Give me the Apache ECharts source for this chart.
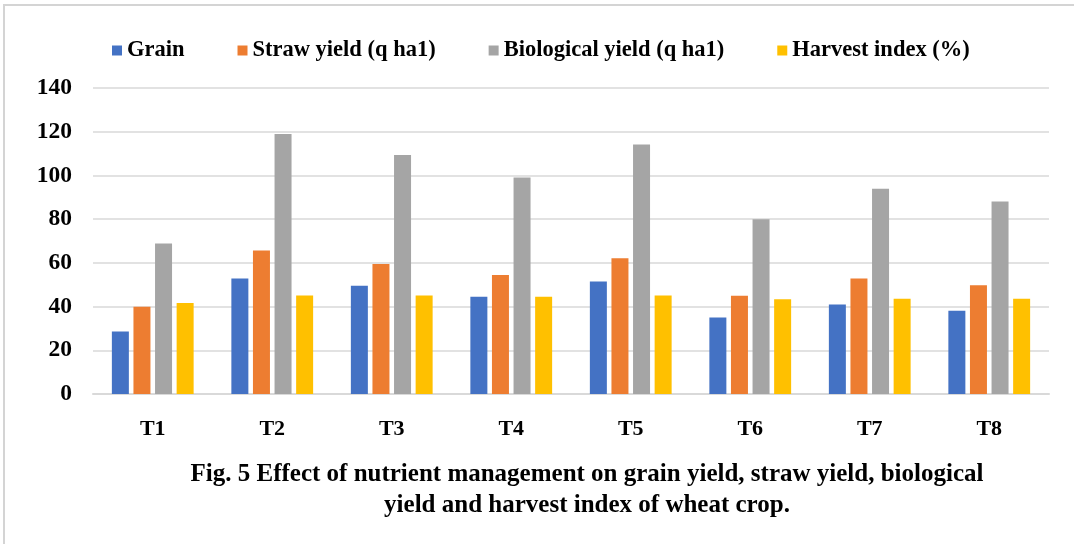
<!DOCTYPE html>
<html>
<head>
<meta charset="utf-8">
<script src="https://cdn.jsdelivr.net/npm/echarts@6/dist/echarts.min.js"></script>
<style>
  html, body { margin: 0; padding: 0; background: #fff; }
  #chart { width: 1074px; height: 544px; }
</style>
</head>
<body>
<div id="chart"></div>
<script>
// treatments on x axis
const treatments = ["T1", "T2", "T3", "T4", "T5", "T6", "T7", "T8"]
// values
const grain = [28.6, 52.8, 49.5, 44.5, 51.5, 35.0, 41.0, 38.1]
const straw = [39.9, 65.6, 59.5, 54.4, 62.1, 45.0, 52.8, 49.8]
const biological = [68.8, 119.0, 109.3, 99.1, 114.1, 80.0, 93.9, 88.1]
const harvestIndex = [41.6, 45.1, 45.1, 44.5, 45.1, 43.3, 43.6, 43.6]

const seriesNames = ["Grain", "Straw yield (q ha1)", "Biological yield (q ha1)", "Harvest index (%)"]
const colors = ["#4472C4", "#ED7D31", "#A5A5A5", "#FFC000"]

const fontFamily = '"Liberation Serif", "Times New Roman", serif'

let mkBar = (name, data, color) => {
  return {
    name: name,
    type: "bar",
    data: data,
    barWidth: 17,
    barGap: "27%",
    itemStyle: {
      color: color
    }
  }
}

let option = {
  animation: false,
  backgroundColor: "#fff",
  graphic: [
    {
      type: "rect",
      shape: { x: 4, y: 5, width: 1200, height: 700 },
      style: { fill: "none", stroke: "#d4d4d4", lineWidth: 2 }
    }
  ],
  title: {
    text: "Fig. 5 Effect of nutrient management on grain yield, straw yield, biological\nyield and harvest index of wheat crop.",
    left: 582,
    top: 454,
    textAlign: "center",
    textStyle: {
      fontFamily: fontFamily,
      fontWeight: "bold",
      fontSize: 25,
      lineHeight: 31,
      color: "#000"
    }
  },
  legend: {
    left: 107,
    top: 34,
    itemWidth: 10,
    itemHeight: 10,
    itemGap: 53,
    icon: "rect",
    textStyle: {
      fontFamily: fontFamily,
      fontWeight: "bold",
      fontSize: 22.5,
      color: "#000"
    },
    data: seriesNames
  },
  grid: {
    left: 93,
    right: 25,
    top: 88,
    bottom: 150
  },
  xAxis: {
    type: "category",
    data: treatments,
    axisTick: { show: false },
    axisLine: {
      lineStyle: { color: "#d9d9d9", width: 2 }
    },
    axisLabel: {
      margin: 24,
      fontFamily: fontFamily,
      fontWeight: "bold",
      fontSize: 22,
      color: "#000"
    }
  },
  yAxis: {
    type: "value",
    min: 0,
    max: 140,
    interval: 20,
    axisLine: { show: false },
    axisTick: { show: false },
    splitLine: {
      lineStyle: { color: "#d9d9d9", width: 1.5 }
    },
    axisLabel: {
      margin: 21,
      fontFamily: fontFamily,
      fontWeight: "bold",
      fontSize: 23.5,
      color: "#000"
    }
  },
  series: [
    mkBar(seriesNames[0], grain, colors[0]),
    mkBar(seriesNames[1], straw, colors[1]),
    mkBar(seriesNames[2], biological, colors[2]),
    mkBar(seriesNames[3], harvestIndex, colors[3])
  ]
}

const chartEl = echarts.init(document.getElementById("chart"))
chartEl.setOption(option)
</script>
</body>
</html>
